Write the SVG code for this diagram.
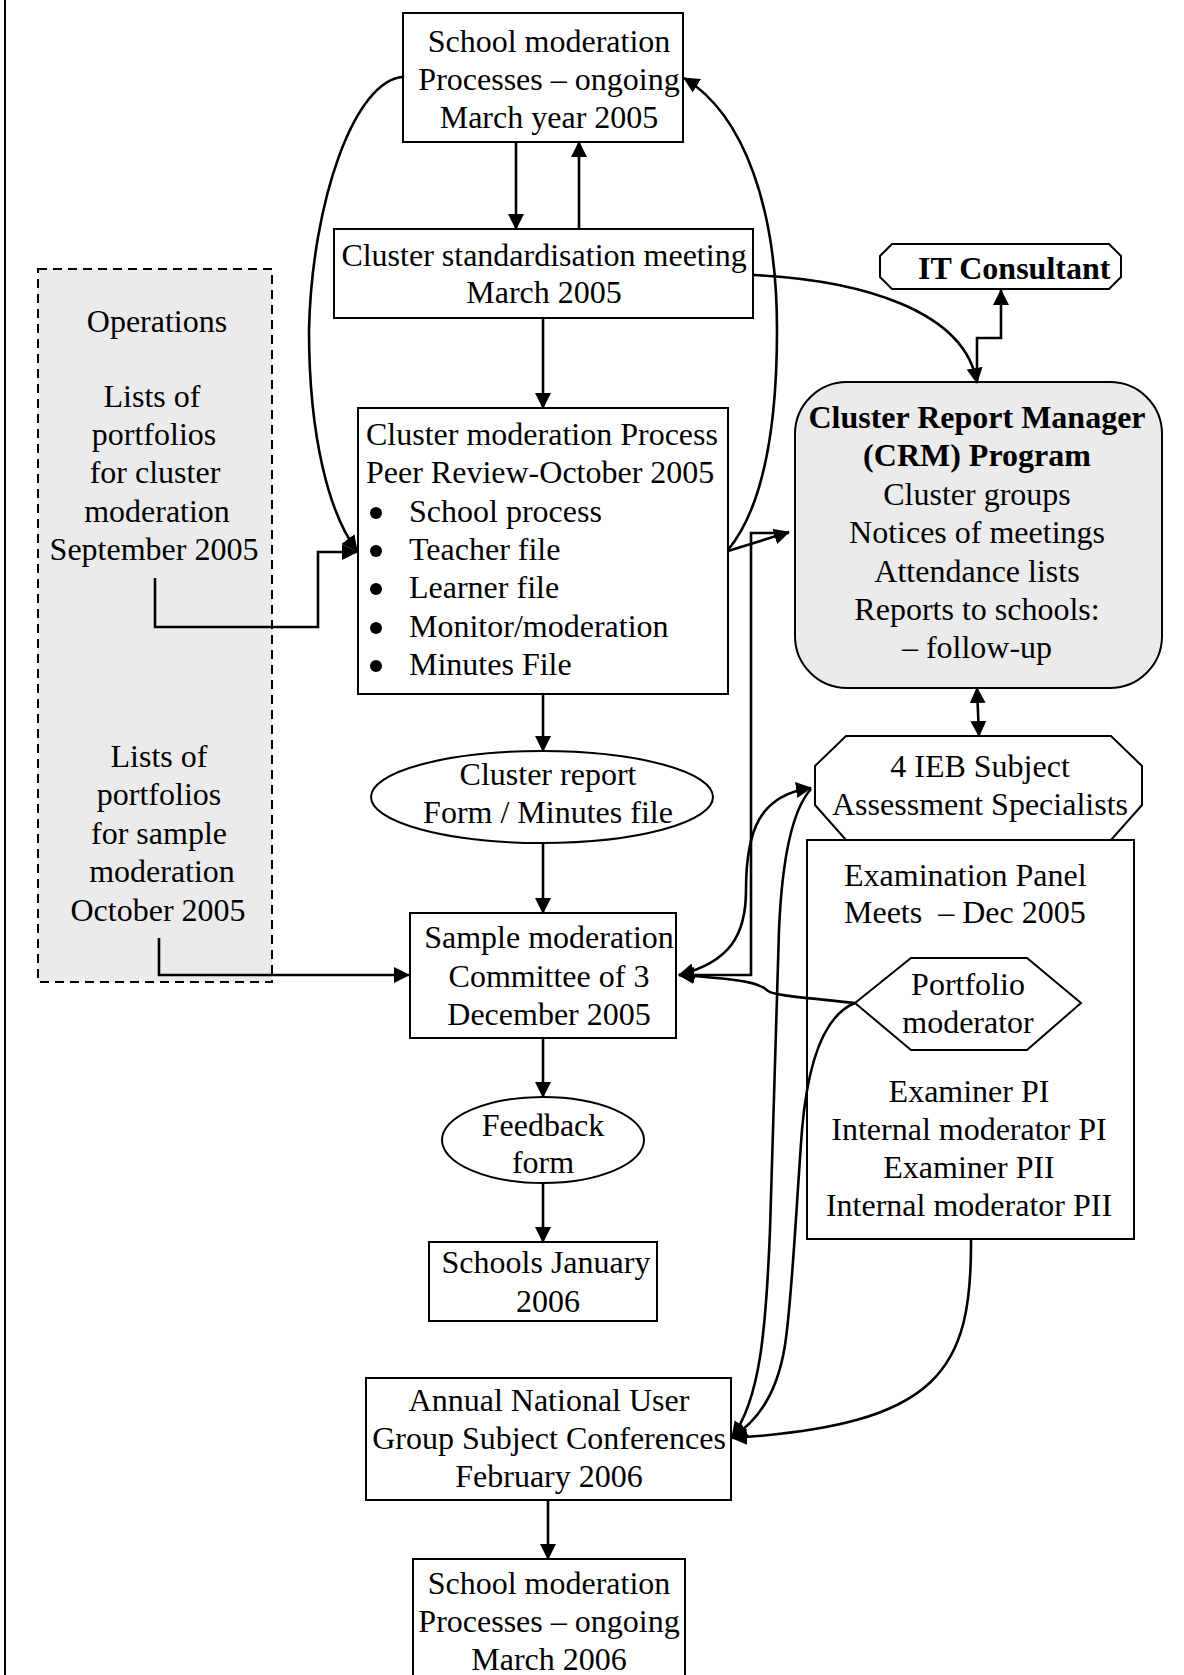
<svg xmlns="http://www.w3.org/2000/svg" width="1184" height="1675" viewBox="0 0 1184 1675">
  <style>
    text { font-family: "Liberation Serif", "Times New Roman", serif; font-size: 32px; fill: #000; }
    .c { text-anchor: middle; }
    .b { font-weight: bold; }
    .node { fill: #fff; stroke: #000; stroke-width: 2; }
    .grey { fill: #ebebeb; stroke: #000; stroke-width: 2; }
    .dash { fill: #ebebeb; stroke: #000; stroke-width: 2; stroke-dasharray: 9 6; }
    .link { fill: none; stroke: #000; stroke-width: 2.6; }
    .arr { marker-end: url(#ah); }
    .both { marker-start: url(#ah); marker-end: url(#ah); }
  </style>
  <defs>
    <marker id="ah" viewBox="0 0 16 16" refX="15" refY="8" markerWidth="16" markerHeight="16" markerUnits="userSpaceOnUse" orient="auto-start-reverse">
      <path d="M0,0 L16,8 L0,16 z" fill="#000"/>
    </marker>
  </defs>

  <rect width="1184" height="1675" fill="#fff"/>
  <!-- page frame edge -->
  <line x1="5" y1="0" x2="5" y2="1675" stroke="#000" stroke-width="2"/>

  <!-- operations side panel -->
  <g id="operations">
    <rect class="dash" x="38" y="269" width="234" height="713"/>
    <text class="c" x="157" y="332">Operations</text>
    <text class="c" x="152" y="407">Lists of</text>
    <text class="c" x="154" y="445">portfolios</text>
    <text class="c" x="155" y="483">for cluster</text>
    <text class="c" x="157" y="522">moderation</text>
    <text class="c" x="154" y="560">September 2005</text>
    <text class="c" x="159" y="767">Lists of</text>
    <text class="c" x="159" y="805">portfolios</text>
    <text class="c" x="159" y="844">for sample</text>
    <text class="c" x="162" y="882">moderation</text>
    <text class="c" x="158" y="921">October 2005</text>
  </g>

  <g id="school-moderation-2005">
    <rect class="node" x="403" y="13" width="280" height="129"/>
    <text class="c" x="549" y="52">School moderation</text>
    <text class="c" x="549" y="90">Processes – ongoing</text>
    <text class="c" x="549" y="128">March year 2005</text>
  </g>

  <g id="cluster-standardisation">
    <rect class="node" x="334" y="229" width="419" height="89"/>
    <text class="c" x="544" y="266">Cluster standardisation meeting</text>
    <text class="c" x="544" y="303">March 2005</text>
  </g>

  <g id="cluster-moderation">
    <rect class="node" x="358" y="408" width="370" height="286"/>
    <text x="366" y="445">Cluster moderation Process</text>
    <text x="366" y="483">Peer Review-October 2005</text>
    <g fill="#000">
      <circle cx="376" cy="513" r="6"/>
      <circle cx="376" cy="551" r="6"/>
      <circle cx="376" cy="589" r="6"/>
      <circle cx="376" cy="628" r="6"/>
      <circle cx="376" cy="666" r="6"/>
    </g>
    <text x="409" y="522">School process</text>
    <text x="409" y="560">Teacher file</text>
    <text x="409" y="598">Learner file</text>
    <text x="409" y="637">Monitor/moderation</text>
    <text x="409" y="675">Minutes File</text>
  </g>

  <g id="it-consultant">
    <polygon class="node" points="892,244 1109,244 1121,256 1121,277 1109,289 892,289 880,277 880,256"/>
    <text class="b" x="918" y="279">IT Consultant</text>
  </g>

  <g id="crm-program">
    <rect class="grey" x="795" y="382" width="367" height="306" rx="52" ry="52"/>
    <text class="c b" x="977" y="428">Cluster Report Manager</text>
    <text class="c b" x="977" y="466">(CRM) Program</text>
    <text class="c" x="977" y="505">Cluster groups</text>
    <text class="c" x="977" y="543">Notices of meetings</text>
    <text class="c" x="977" y="582">Attendance lists</text>
    <text class="c" x="977" y="620">Reports to schools:</text>
    <text class="c" x="977" y="658">– follow-up</text>
  </g>

  <g id="cluster-report-form">
    <ellipse class="node" cx="542" cy="797" rx="171" ry="46"/>
    <text class="c" x="548" y="785">Cluster report</text>
    <text class="c" x="548" y="823">Form / Minutes file</text>
  </g>

  <g id="ieb-specialists">
    <polygon class="node" points="846,736 1111,736 1142,766 1142,805 1111,840 846,840 815,805 815,766"/>
    <text class="c" x="980" y="777">4 IEB Subject</text>
    <text class="c" x="980" y="815">Assessment Specialists</text>
  </g>

  <g id="examination-panel">
    <rect class="node" x="807" y="840" width="327" height="399"/>
    <text x="844" y="886">Examination Panel</text>
    <text x="844" y="923" style="white-space:pre">Meets  – Dec 2005</text>
    <text class="c" x="969" y="1102">Examiner PI</text>
    <text class="c" x="969" y="1140">Internal moderator PI</text>
    <text class="c" x="969" y="1178">Examiner PII</text>
    <text class="c" x="969" y="1216">Internal moderator PII</text>
  </g>

  <g id="portfolio-moderator">
    <polygon class="node" points="855,1003 911,958 1027,958 1081,1003 1027,1050 911,1050"/>
    <text class="c" x="968" y="995">Portfolio</text>
    <text class="c" x="968" y="1033">moderator</text>
  </g>

  <g id="sample-moderation">
    <rect class="node" x="410" y="913" width="266" height="125"/>
    <text class="c" x="549" y="948">Sample moderation</text>
    <text class="c" x="549" y="987">Committee of 3</text>
    <text class="c" x="549" y="1025">December 2005</text>
  </g>

  <g id="feedback-form">
    <ellipse class="node" cx="543" cy="1140" rx="101" ry="43"/>
    <text class="c" x="543" y="1136">Feedback</text>
    <text class="c" x="543" y="1173">form</text>
  </g>

  <g id="schools-january">
    <rect class="node" x="429" y="1242" width="228" height="79"/>
    <text class="c" x="546" y="1273">Schools January</text>
    <text class="c" x="548" y="1312">2006</text>
  </g>

  <g id="annual-conferences">
    <rect class="node" x="366" y="1378" width="365" height="122"/>
    <text class="c" x="549" y="1411">Annual National User</text>
    <text class="c" x="549" y="1449">Group Subject Conferences</text>
    <text class="c" x="549" y="1487">February 2006</text>
  </g>

  <g id="school-moderation-2006">
    <rect class="node" x="413" y="1559" width="272" height="130"/>
    <text class="c" x="549" y="1594">School moderation</text>
    <text class="c" x="549" y="1632">Processes – ongoing</text>
    <text class="c" x="549" y="1670">March 2006</text>
  </g>

  <!-- connectors -->
  <g id="connectors">
    <path class="link arr" d="M516,142 V229"/>
    <path class="link arr" d="M579,229 V142"/>
    <path class="link arr" d="M403,77 C355,80 312,200 309,330 C309,440 330,515 357,551"/>
    <path class="link arr" d="M543,318 V408"/>
    <path class="link arr" d="M155,578 V627 H318 V552 H357"/>
    <path class="link arr" d="M753,275 C860,280 965,310 977,383"/>
    <path class="link arr" d="M977,383 V338 H1001 V290"/>
    <path class="link arr" d="M728,550 C765,505 777,420 777,330 C777,210 745,115 684,78"/>
    <path class="link arr" d="M728,551 L789,532"/>
    <path class="link arr" d="M789,533 H751 V975 H679"/>
    <path class="link both" d="M977,688 L979,736"/>
    <path class="link arr" d="M543,694 V751"/>
    <path class="link arr" d="M543,843 V913"/>
    <path class="link arr" d="M159,938 V975 H409"/>
    <path class="link both" d="M679,975 C730,962 746,935 746,890 C746,830 760,795 811,788"/>
    <path class="link arr" d="M855,1003 C810,998 775,996 768,991 C762,985 755,980 679,975"/>
    <path class="link arr" d="M543,1038 V1097"/>
    <path class="link arr" d="M543,1183 V1242"/>
    <path class="link arr" d="M811,789 C792,810 782,860 779,930 L770,1230 C766,1330 760,1400 732,1437"/>
    <path class="link arr" d="M855,1003 C825,1015 808,1060 802,1130 C796,1210 792,1300 785,1345 C778,1390 760,1420 732,1437"/>
    <path class="link arr" d="M971,1239 C972,1370 940,1425 732,1438"/>
    <path class="link arr" d="M548,1500 V1559"/>
  </g>
</svg>
